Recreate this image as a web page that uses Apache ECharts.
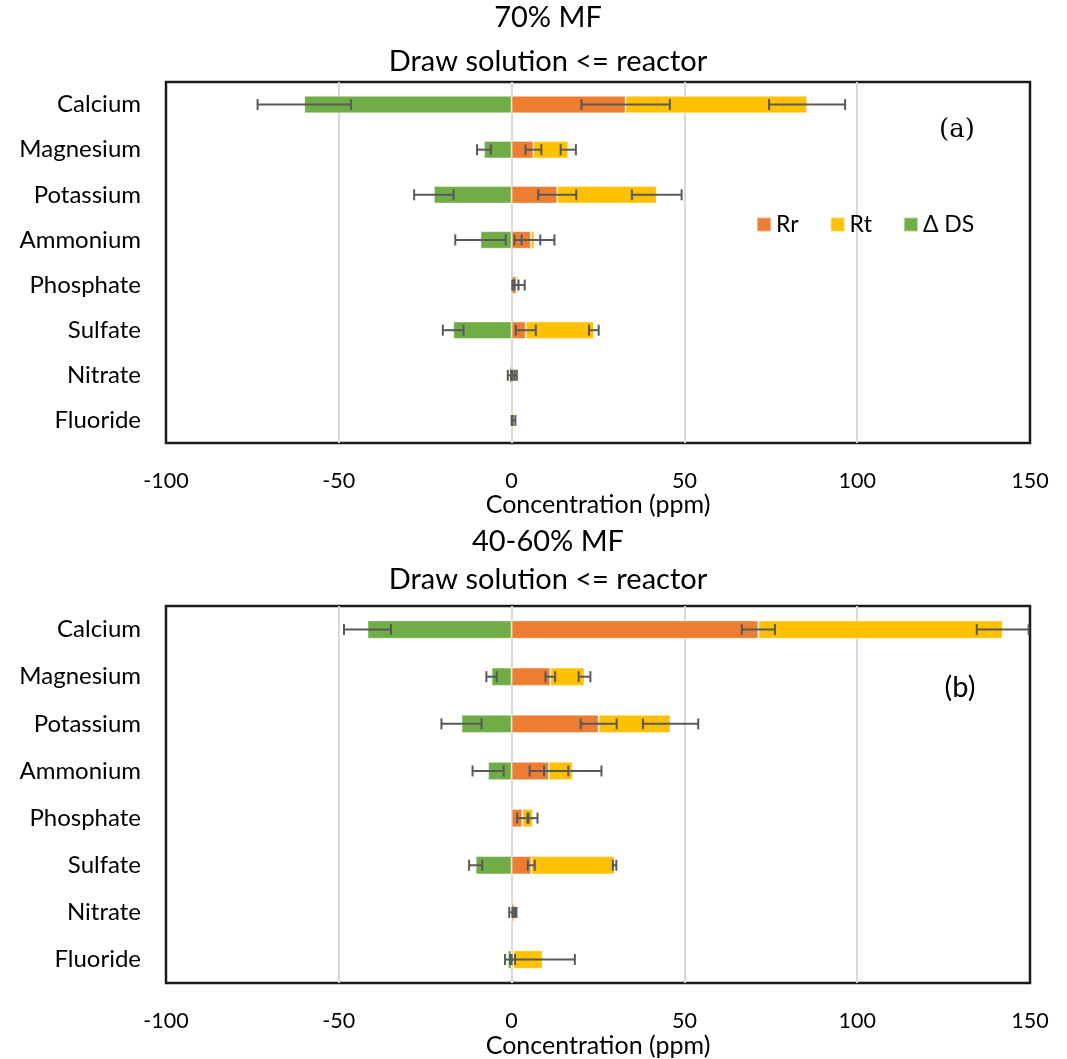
<!DOCTYPE html>
<html>
<head>
<meta charset="utf-8">
<script src="https://cdn.jsdelivr.net/npm/echarts@6/dist/echarts.min.js"></script>
<style>
html,body{margin:0;padding:0;background:#fff;}
#chart{width:1067px;height:1059px;}
</style>
</head>
<body>
<div id="chart"></div>
<script>
// ---------- DATA ----------
const categories = ['Calcium','Magnesium','Potassium','Ammonium','Phosphate','Sulfate','Nitrate','Fluoride'];
const xTicks = [-100, -50, 0, 50, 100, 150];

// (a) 70% MF
const rrA     = [33.0, 6.3, 13.2, 5.6, 1.4, 4.1, 0.4, 0.1];
const rtA     = [52.5, 10.1, 28.8, 1.0, 0.6, 19.7, 0.5, 0.6];
const dsA     = [-60.0, -8.0, -22.5, -9.0, 0, -16.9, -0.6, 0];
const rrErrA  = [12.8, 2.3, 5.5, 2.7, 0.6, 2.9, 0.5, 0.1];
const rtErrA  = [11.0, 2.2, 7.2, 5.8, 1.8, 1.4, 0.6, 0.4];
const dsErrA  = [13.5, 2.0, 5.7, 7.3, 0, 3.0, 0.5, 0];

// (b) 40-60% MF
const rrB     = [71.4, 11.2, 25.2, 10.8, 3.1, 5.7, 0.7, 0.5];
const rtB     = [70.7, 9.9, 20.8, 6.9, 3.1, 24.1, 0.4, 8.5];
const dsB     = [-41.7, -5.8, -14.5, -6.8, 0, -10.4, -0.2, -1.1];
const rrErrB  = [4.8, 1.4, 5.2, 5.6, 1.5, 1.0, 0.4, 0.5];
const rtErrB  = [7.5, 1.7, 8.0, 8.3, 1.3, 0.5, 0.3, 9.3];
const dsErrB  = [6.8, 1.5, 5.8, 4.5, 0, 1.9, 0.5, 0.8];

const seriesNames = ['Rr', 'Rt', '\u0394 DS'];
const colors = ['#ED7D31', '#FFC000', '#70AD47'];

// ---------- BUILD ----------
const FONT = 'Lato';
function errData(centers, errs) {
  const out = [];
  centers.forEach((c, i) => { if (errs[i] > 0) out.push([c - errs[i], c + errs[i], i]); });
  return out;
}
function errSeries(data, gi) {
  return {
    type: 'custom', xAxisIndex: gi, yAxisIndex: gi, z: 10, silent: true,
    encode: { x: [0, 1], y: 2 },
    data: data,
    renderItem: function (params, api) {
      const lo = api.coord([api.value(0), api.value(2)]);
      const hi = api.coord([api.value(1), api.value(2)]);
      const h = 5.5;
      const st = { stroke: '#595959', lineWidth: 2 };
      return { type: 'group', children: [
        { type: 'line', shape: { x1: lo[0], y1: lo[1], x2: hi[0], y2: hi[1] }, style: st },
        { type: 'line', shape: { x1: lo[0], y1: lo[1] - h, x2: lo[0], y2: lo[1] + h }, style: st },
        { type: 'line', shape: { x1: hi[0], y1: hi[1] - h, x2: hi[0], y2: hi[1] + h }, style: st }
      ]};
    }
  };
}
function barSeries(rr, rt, ds, rrE, rtE, dsE, gi) {
  const ends = rr.map((v, i) => v + rt[i]);
  const common = { type: 'bar', xAxisIndex: gi, yAxisIndex: gi, barWidth: '39%', stack: 'all' + gi };
  const border = { borderColor: 'rgba(255,255,255,0.45)', borderWidth: 1 };
  return [
    Object.assign({}, common, { name: seriesNames[0], data: rr, itemStyle: Object.assign({ color: colors[0] }, border) }),
    Object.assign({}, common, { name: seriesNames[1], data: rt, itemStyle: Object.assign({ color: colors[1] }, border) }),
    Object.assign({}, common, { name: seriesNames[2], data: ds, itemStyle: Object.assign({ color: colors[2] }, border) }),
    errSeries(errData(rr, rrE), gi),
    errSeries(errData(ends, rtE), gi),
    errSeries(errData(ds, dsE), gi)
  ];
}
function xAxis(gi, nameGap) {
  return {
    type: 'value', gridIndex: gi, min: xTicks[0], max: xTicks[xTicks.length - 1], interval: 50,
    axisLine: { show: false }, axisTick: { show: false },
    splitLine: { show: true, showMinLine: false, showMaxLine: false, lineStyle: { color: '#d9d9d9', width: 2 } },
    axisLabel: { fontSize: 21.5, color: '#000', fontFamily: FONT, margin: 27 },
    name: 'Concentration (ppm)', nameLocation: 'middle', nameGap: nameGap,
    nameTextStyle: { fontSize: 25, color: '#000', fontFamily: FONT }
  };
}
function yAxis(gi) {
  return {
    type: 'category', gridIndex: gi, data: categories, inverse: true,
    axisLine: { show: false }, axisTick: { show: false }, splitLine: { show: false },
    axisLabel: { fontSize: 24, color: '#000', fontFamily: FONT, margin: 25 }
  };
}
function txt(text, x, y, size, family) {
  return { type: 'text', x: x, y: y, silent: true,
    style: { text: text, fill: '#000', fontSize: size, fontFamily: family || FONT,
             align: 'center', verticalAlign: 'middle', textAlign: 'center', textVerticalAlign: 'middle' } };
}

const option = {
  backgroundColor: '#fff',
  animation: false,
  grid: [
    { left: 166, right: 37, top: 82, height: 361, show: true, borderColor: '#1a1a1a', borderWidth: 2.5, backgroundColor: 'transparent' },
    { left: 166, right: 37, top: 606, height: 381, show: true, borderColor: '#1a1a1a', borderWidth: 2.5, backgroundColor: 'transparent' }
  ],
  xAxis: [xAxis(0, 44), xAxis(1, 45)],
  yAxis: [yAxis(0), yAxis(1)],
  legend: {
    data: seriesNames, left: 751, top: 208, itemWidth: 14, itemHeight: 14, itemGap: 31, icon: 'rect',
    textStyle: { fontSize: 23, color: '#000', fontFamily: FONT }
  },
  graphic: [
    txt('70% MF', 548, 18, 29),
    txt('Draw solution <= reactor', 548, 62, 29),
    txt('40-60% MF', 548, 542, 29),
    txt('Draw solution <= reactor', 548, 580, 29),
    txt('(a)', 957, 130, 26, 'DejaVu Serif'),
    txt('(b)', 960, 688, 29)
  ],
  series: [].concat(
    barSeries(rrA, rtA, dsA, rrErrA, rtErrA, dsErrA, 0),
    barSeries(rrB, rtB, dsB, rrErrB, rtErrB, dsErrB, 1)
  )
};
const chart = echarts.init(document.getElementById('chart'));
chart.setOption(option);
</script>
</body>
</html>
